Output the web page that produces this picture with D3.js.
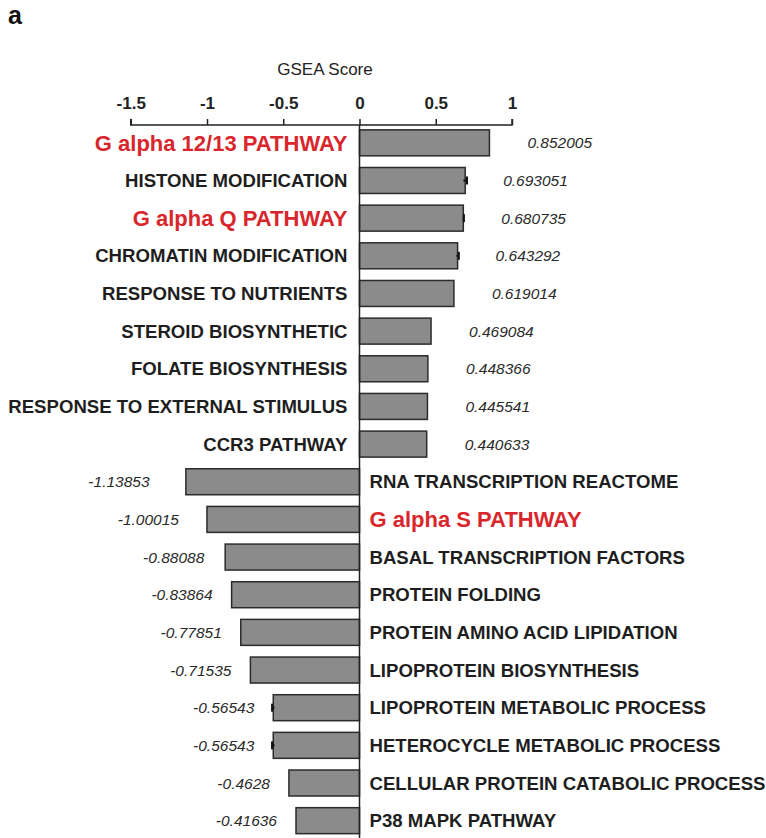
<!DOCTYPE html>
<html>
<head>
<meta charset="utf-8">
<script src="https://cdn.jsdelivr.net/npm/d3@7"></script>
<style>
  html, body { margin: 0; padding: 0; background: #fff; }
  svg { display: block; font-family: "Liberation Sans", Arial, Helvetica, sans-serif; }
</style>
</head>
<body>
<svg id="chart" width="766" height="838"></svg>
<script>
// Gene sets and their GSEA enrichment scores
const pathways = [
  "G alpha 12/13 PATHWAY",
  "HISTONE MODIFICATION",
  "G alpha Q PATHWAY",
  "CHROMATIN MODIFICATION",
  "RESPONSE TO NUTRIENTS",
  "STEROID BIOSYNTHETIC",
  "FOLATE BIOSYNTHESIS",
  "RESPONSE TO EXTERNAL STIMULUS",
  "CCR3 PATHWAY",
  "RNA TRANSCRIPTION REACTOME",
  "G alpha S PATHWAY",
  "BASAL TRANSCRIPTION FACTORS",
  "PROTEIN FOLDING",
  "PROTEIN AMINO ACID LIPIDATION",
  "LIPOPROTEIN BIOSYNTHESIS",
  "LIPOPROTEIN METABOLIC PROCESS",
  "HETEROCYCLE METABOLIC PROCESS",
  "CELLULAR PROTEIN CATABOLIC PROCESS",
  "P38 MAPK PATHWAY"
];
const scores = [
  0.852005, 0.693051, 0.680735, 0.643292, 0.619014, 0.469084, 0.448366, 0.445541, 0.440633,
  -1.13853, -1.00015, -0.88088, -0.83864, -0.77851, -0.71535, -0.56543, -0.56543, -0.4628, -0.41636
];
// Small error estimates (drawn as whiskers at the bar ends)
const errors = [
  0, 0.012, 0.004, 0.008, 0, 0, 0, 0, 0,
  0, 0, 0, 0, 0, 0, 0.008, 0.008, 0, 0
];
// Gene sets highlighted in red
const highlighted = ["G alpha 12/13 PATHWAY", "G alpha Q PATHWAY", "G alpha S PATHWAY"];
const tickValues = [-1.5, -1, -0.5, 0, 0.5, 1];

const rows = pathways.map((name, i) => ({ name, score: scores[i], err: errors[i] }));

const svg = d3.select("#chart");
const axisY = 125;

const x = d3.scaleLinear().domain([-1.5, 1]).range([130.75, 512]);
const y = d3.scaleBand().domain(pathways).range([124, 839.5]).paddingInner(0.31).paddingOuter(0.155);

// Panel letter
svg.append("text")
  .attr("x", 8).attr("y", 24)
  .attr("font-size", 25).attr("font-weight", "bold").attr("fill", "#111")
  .text("a");

// Axis title
svg.append("text")
  .attr("x", 325).attr("y", 74.5)
  .attr("text-anchor", "middle")
  .attr("font-size", 17).attr("fill", "#222")
  .text("GSEA Score");

// Top axis
const axis = d3.axisTop(x)
  .tickValues(tickValues)
  .tickSize(6)
  .tickPadding(10)
  .tickFormat(d => String(d));

const gAxis = svg.append("g")
  .attr("transform", `translate(0,${axisY})`)
  .call(axis);
gAxis.select(".domain").attr("stroke", "#222").attr("stroke-width", 1.5)
  .attr("d", `M${x(-1.5)},-6V0H${x(1)}V-6`);
gAxis.selectAll(".tick line").attr("stroke", "#222").attr("stroke-width", 1.5);
gAxis.selectAll(".tick text")
  .attr("font-size", 17).attr("font-weight", "bold").attr("fill", "#222")
  .attr("font-family", "'Liberation Sans', Arial, sans-serif");

// Bars
svg.append("g").selectAll("rect")
  .data(rows)
  .join("rect")
  .attr("x", d => x(Math.min(0, d.score)))
  .attr("y", d => y(d.name))
  .attr("width", d => Math.abs(x(d.score) - x(0)))
  .attr("height", y.bandwidth())
  .attr("fill", "#8b8b8b")
  .attr("stroke", "#2b2b2b")
  .attr("stroke-width", 1.5);

// Error whiskers
const errRows = rows.filter(d => d.err > 0);
const gErr = svg.append("g").attr("stroke", "#111").attr("stroke-width", 2);
gErr.selectAll("line.whisker")
  .data(errRows)
  .join("line")
  .attr("class", "whisker")
  .attr("x1", d => x(d.score - d.err)).attr("x2", d => x(d.score + d.err))
  .attr("y1", d => y(d.name) + y.bandwidth() / 2)
  .attr("y2", d => y(d.name) + y.bandwidth() / 2);
gErr.selectAll("line.cap")
  .data(errRows)
  .join("line")
  .attr("class", "cap")
  .attr("x1", d => x(d.score + Math.sign(d.score) * d.err))
  .attr("x2", d => x(d.score + Math.sign(d.score) * d.err))
  .attr("y1", d => y(d.name) + y.bandwidth() / 2 - 4)
  .attr("y2", d => y(d.name) + y.bandwidth() / 2 + 4);

// Zero line
svg.append("line")
  .attr("x1", x(0)).attr("x2", x(0))
  .attr("y1", axisY).attr("y2", 838)
  .attr("stroke", "#222").attr("stroke-width", 1.5);

// Pathway names: left of zero for positive scores, right of zero for negative
svg.append("g").selectAll("text")
  .data(rows)
  .join("text")
  .attr("x", d => d.score >= 0 ? x(0) - 12 : x(0) + 10)
  .attr("y", d => y(d.name) + y.bandwidth() / 2)
  .attr("dy", "0.36em")
  .attr("text-anchor", d => d.score >= 0 ? "end" : "start")
  .attr("font-weight", "bold")
  .attr("font-size", d => highlighted.includes(d.name) ? 22 : 18.6)
  .attr("fill", d => highlighted.includes(d.name) ? "#d9262c" : "#1e1e1e")
  .text(d => d.name);

// Score labels
svg.append("g").selectAll("text")
  .data(rows)
  .join("text")
  .attr("x", d => d.score >= 0
    ? x(d.score) + 38
    : x(d.score) - 19 - Math.max(0, -d.score - 0.85) * 60)
  .attr("y", d => y(d.name) + y.bandwidth() / 2)
  .attr("dy", "0.36em")
  .attr("text-anchor", d => d.score >= 0 ? "start" : "end")
  .attr("font-style", "italic")
  .attr("font-size", 15.5)
  .attr("fill", "#2a2a2a")
  .text(d => String(d.score));
</script>
</body>
</html>
